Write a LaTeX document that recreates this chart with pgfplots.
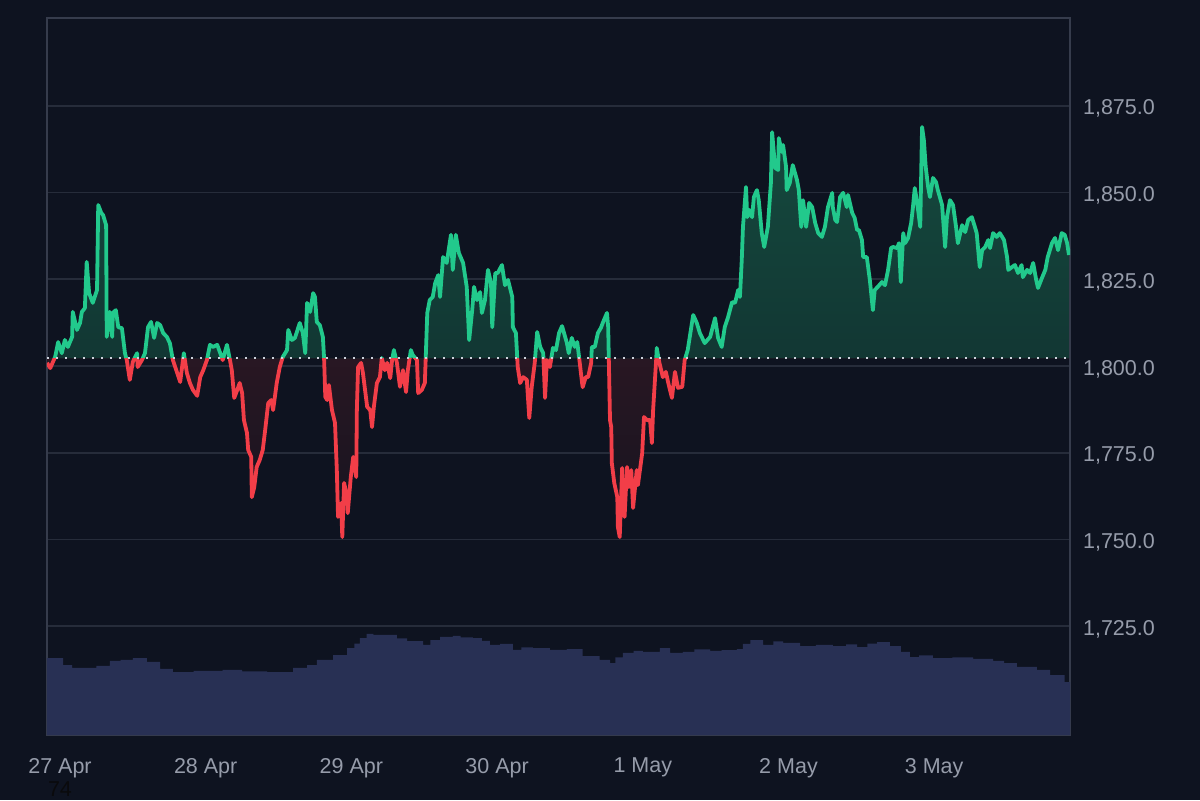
\documentclass[border=0pt]{standalone}
\usepackage{pgfplots}
\pgfplotsset{compat=1.18}
\usepackage{pgfplotstable}
\usepackage{fontspec}
\setmainfont{Liberation Sans}
\definecolor{bgcol}{RGB}{14,19,32}
\definecolor{gridcol}{RGB}{38,44,58}
\definecolor{bordercol}{RGB}{54,60,76}
\definecolor{txtcol}{RGB}{150,156,170}
\definecolor{upcol}{RGB}{34,201,140}
\definecolor{dncol}{RGB}{242,62,72}
\definecolor{upfillt}{RGB}{21,74,62}
\definecolor{upfillb}{RGB}{15,40,43}
\definecolor{dnfillt}{RGB}{64,26,38}
\definecolor{dnfillb}{RGB}{22,20,32}
\definecolor{volcol}{RGB}{40,48,84}

\pgfplotstableread{
h v
-2.14 1800.9
-1.6 1799.4
-0.8 1802.6
-0.3 1806.9
0.3 1803.7
0.8 1807.5
1.3 1805.5
2.0 1808.4
2.1 1815.6
2.8 1810.4
3.3 1812.4
3.6 1815.6
4.1 1816.7
4.4 1830.0
4.8 1821.0
5.4 1818.2
6.1 1821.9
6.3 1846.4
6.8 1844.1
7.1 1843.5
7.6 1840.6
7.7 1808.4
8.2 1815.6
8.6 1808.4
8.7 1815.3
9.2 1816.1
9.6 1811.2
10.2 1810.9
10.7 1803.7
11.0 1801.7
11.5 1796.0
12.0 1801.2
12.7 1803.7
12.8 1799.7
13.5 1801.7
14.0 1803.7
14.5 1811.2
15.0 1812.7
15.5 1808.1
16.0 1812.4
16.5 1811.8
17.0 1809.5
17.6 1808.4
18.1 1806.6
18.6 1801.7
19.3 1798.0
19.8 1795.4
20.4 1803.7
20.9 1798.0
21.4 1795.1
21.9 1793.1
22.6 1791.4
23.1 1796.8
23.6 1798.8
24.2 1801.7
24.7 1806.1
25.2 1805.5
25.9 1806.1
26.4 1803.7
26.8 1801.7
27.5 1806.1
28.0 1801.7
28.3 1798.8
28.7 1790.8
29.2 1793.1
29.6 1795.1
30.0 1792.2
30.3 1784.4
30.8 1780.7
31.0 1775.8
31.5 1773.8
31.6 1762.2
32.0 1765.1
32.4 1770.9
32.9 1772.9
33.4 1775.8
33.8 1781.6
34.3 1789.3
34.8 1790.2
35.1 1787.3
35.4 1791.1
35.7 1795.1
36.2 1799.7
36.7 1802.6
37.4 1804.6
37.6 1810.4
38.2 1807.5
38.7 1808.1
39.5 1812.4
40.0 1809.5
40.4 1803.7
40.7 1818.2
41.2 1815.6
41.7 1821.0
42.0 1819.9
42.3 1812.7
42.8 1811.8
43.3 1808.4
43.5 1802.3
43.7 1791.1
44.0 1790.2
44.3 1794.5
44.8 1787.3
45.3 1783.6
45.6 1770.0
45.8 1756.5
46.3 1760.5
46.5 1750.7
46.8 1766.3
47.3 1762.2
47.4 1757.6
47.9 1768.0
48.3 1773.8
48.8 1768.0
48.9 1787.3
49.1 1799.7
49.6 1800.9
49.9 1798.0
50.6 1788.2
51.1 1787.3
51.4 1782.4
51.7 1788.2
52.2 1795.1
52.7 1796.8
53.0 1802.3
53.5 1798.8
53.9 1800.9
54.4 1796.5
54.7 1801.7
55.0 1804.6
55.5 1800.9
56.0 1794.0
56.5 1798.8
57.0 1792.5
57.3 1798.8
57.8 1804.6
58.1 1803.2
58.8 1801.7
59.0 1792.2
59.6 1793.1
60.1 1795.1
60.5 1815.3
60.9 1819.0
61.4 1819.9
61.8 1823.9
62.3 1826.2
62.6 1819.9
63.1 1831.4
63.7 1829.7
64.4 1837.8
64.7 1827.7
65.2 1837.8
65.7 1832.6
66.4 1829.7
67.0 1822.8
67.4 1807.5
67.9 1816.1
68.2 1822.8
68.7 1819.0
69.2 1821.3
69.5 1815.3
70.0 1819.0
70.5 1827.7
71.0 1823.9
71.2 1811.2
71.7 1826.8
72.1 1826.8
72.8 1829.1
73.3 1823.3
73.8 1824.8
74.5 1819.9
74.6 1811.2
75.1 1809.5
75.4 1799.7
75.8 1795.1
76.3 1796.8
76.9 1796.0
77.3 1785.0
77.7 1793.9
78.2 1800.9
78.6 1809.8
79.1 1805.5
79.6 1803.7
79.9 1790.8
80.2 1801.7
80.7 1799.7
81.2 1805.2
81.7 1804.6
82.2 1809.5
82.7 1811.5
83.5 1806.6
83.8 1803.7
84.3 1808.1
84.8 1805.5
85.2 1806.9
85.5 1802.6
86.0 1795.1
86.1 1793.9
86.6 1796.8
87.0 1796.8
87.5 1800.9
87.6 1805.5
88.1 1805.5
88.6 1809.5
89.1 1811.0
89.4 1812.4
90.1 1815.3
90.3 1811.2
90.6 1784.4
90.8 1782.4
90.9 1772.0
91.3 1766.3
91.8 1762.2
91.9 1753.6
92.2 1750.7
92.6 1770.6
92.7 1761.4
93.0 1756.5
93.4 1770.9
93.7 1765.1
94.1 1770.0
94.4 1759.1
95.0 1770.0
95.2 1765.7
95.9 1774.9
96.2 1785.3
96.7 1784.4
97.2 1784.4
97.5 1777.8
97.7 1787.3
98.2 1801.7
98.3 1805.2
98.7 1801.2
99.3 1796.8
99.8 1798.3
100.2 1795.1
100.8 1790.8
101.3 1798.3
101.8 1793.7
102.5 1794.0
102.9 1801.7
103.4 1804.6
104.3 1814.7
104.9 1812.4
105.4 1809.5
106.2 1806.6
107.1 1808.4
107.9 1813.8
108.4 1808.1
109.0 1805.5
109.5 1811.2
110.0 1813.8
110.7 1818.4
111.2 1818.2
111.7 1821.9
112.0 1819.9
112.3 1830.5
112.5 1840.1
113.0 1851.6
113.2 1842.9
113.5 1845.0
114.0 1842.9
114.3 1848.7
114.8 1850.7
115.1 1847.8
115.6 1838.3
116.0 1834.3
116.6 1840.1
117.1 1852.7
117.3 1867.4
117.8 1857.1
118.3 1856.5
118.4 1865.7
118.9 1861.7
119.1 1863.7
119.6 1857.4
119.7 1850.7
120.2 1852.7
120.7 1857.9
121.4 1853.6
121.7 1850.7
122.1 1840.1
122.4 1847.8
122.9 1840.1
123.4 1847.0
123.9 1845.8
124.4 1841.2
124.9 1838.3
125.5 1837.2
126.0 1840.1
126.5 1845.8
127.2 1849.9
127.3 1845.8
127.7 1842.1
128.0 1841.5
128.5 1848.7
129.0 1849.9
129.6 1845.8
129.8 1849.3
130.5 1844.1
130.9 1842.7
131.3 1839.2
131.6 1839.2
132.1 1836.3
132.3 1831.4
132.9 1831.4
133.4 1824.8
133.9 1816.1
134.2 1821.9
134.7 1822.8
135.4 1824.2
135.9 1823.3
136.4 1827.7
136.9 1834.0
137.2 1834.3
137.9 1834.0
138.2 1835.4
138.5 1824.2
138.9 1838.3
139.2 1835.4
139.7 1836.9
140.2 1841.2
140.5 1845.8
140.8 1851.3
141.2 1847.0
141.7 1840.1
142.0 1868.9
142.3 1865.1
142.6 1857.4
143.0 1851.6
143.3 1848.7
143.8 1854.2
144.3 1853.0
144.6 1850.7
145.3 1846.4
145.8 1834.3
146.1 1842.9
146.6 1847.8
147.1 1846.4
147.6 1840.1
147.9 1835.4
148.6 1840.6
149.1 1838.6
149.6 1842.1
150.2 1842.9
150.7 1840.1
151.0 1838.3
151.5 1828.5
151.9 1833.4
152.4 1834.3
152.9 1836.3
153.2 1834.0
153.7 1838.3
154.3 1837.2
154.8 1838.3
155.2 1837.2
155.5 1836.3
156.0 1831.4
156.2 1827.7
156.8 1828.5
157.3 1829.1
157.8 1826.8
158.4 1829.1
158.6 1825.6
159.3 1827.7
159.8 1826.8
160.3 1829.7
160.8 1824.8
161.1 1822.5
161.8 1825.6
162.3 1827.7
162.7 1831.4
163.4 1835.4
163.9 1836.9
164.4 1833.4
165.0 1838.3
165.5 1837.8
165.9 1835.4
166.2 1832.0
}\price

\pgfplotstableread{
h v
-2.14 1715.8
0.5 1713.8
2.0 1713.0
3.8 1713.0
6.0 1713.6
8.2 1715.0
10.0 1715.3
12.0 1715.8
14.3 1714.7
16.5 1712.7
18.6 1711.8
22.0 1712.1
26.8 1712.4
30.0 1712.0
34.1 1711.8
38.4 1713.0
40.7 1713.8
42.3 1715.3
45.0 1716.7
47.3 1718.7
48.5 1720.0
49.4 1721.6
50.5 1722.8
51.6 1722.5
53.9 1722.5
55.5 1721.5
57.2 1720.7
59.8 1719.6
61.0 1721.0
62.6 1721.9
64.7 1722.2
66.0 1721.8
68.0 1721.6
69.5 1720.8
70.8 1719.6
72.5 1719.9
74.6 1718.2
76.0 1718.9
77.9 1718.7
80.7 1718.2
83.5 1718.4
86.1 1716.4
88.9 1715.3
90.6 1714.4
91.5 1716.0
92.7 1717.3
94.5 1717.9
96.0 1717.6
98.8 1718.7
100.5 1717.3
102.6 1717.6
104.5 1718.3
107.1 1717.9
109.0 1718.1
111.5 1718.4
112.5 1719.9
113.7 1721.0
115.8 1719.6
117.5 1720.6
119.1 1720.2
121.9 1719.3
124.5 1719.6
127.3 1719.3
129.5 1719.8
131.3 1719.0
133.0 1720.0
134.6 1720.4
136.7 1719.3
138.5 1717.6
140.0 1716.1
141.5 1716.6
143.8 1715.8
147.0 1716.0
150.4 1715.6
153.7 1715.0
155.5 1714.4
157.6 1713.3
160.9 1712.4
163.1 1710.9
165.5 1708.9
166.4 1708.6
}\volume

\begin{document}
\begin{tikzpicture}[font=\fontsize{10.75}{13}\selectfont]
\fill[bgcol] (0,0) rectangle (600pt,400pt);
\useasboundingbox (0,0) rectangle (600pt,400pt);
\begin{axis}[
  at={(23.5pt,32.5pt)}, anchor=south west,
  scale only axis, width=511.5pt, height=358.5pt,
  xmin=-2.14, xmax=166.37, ymin=1693.65, ymax=1900.3,
  axis line style={draw=bordercol, line width=0.8pt},
  ymajorgrids, grid style={draw=gridcol, line width=0.8pt},
  major tick length=0pt,
  xtick={0,24,48,72,96,120,144},
  xticklabels={27 Apr,28 Apr,29 Apr,30 Apr,1 May,2 May,3 May},
  ytick={1725,1750,1775,1800,1825,1850,1875},
  yticklabel pos=right,
  yticklabel style={anchor=west, xshift=3pt, yshift=-1.5pt, text=txtcol},
  xticklabel style={text=txtcol, yshift=-8pt},
  /pgf/number format/.cd, fixed, fixed zerofill, precision=1, 1000 sep={,}, assume math mode=true,
]
\addplot[fill=volcol, draw=none, const plot] table {\volume} \closedcycle;
\begin{scope}
  \clip (axis cs:-10,1802.2) rectangle (axis cs:180,1950);
  \addplot[draw=none, top color=upfillt, bottom color=upfillb] table {\price} -- (axis cs:166.2,1802.2) -- (axis cs:-2.14,1802.2) -- cycle;
  \addplot[upcol, line width=1.9pt, line join=round] table {\price};
\end{scope}
\begin{scope}
  \clip (axis cs:-10,1650) rectangle (axis cs:180,1802.2);
  \addplot[draw=none, top color=dnfillt, bottom color=dnfillb] table {\price} -- (axis cs:166.2,1802.2) -- (axis cs:-2.14,1802.2) -- cycle;
  \addplot[dncol, line width=1.9pt, line join=round] table {\price};
\end{scope}
\addplot[draw={rgb,255:red,205;green,210;blue,220}, line width=1pt, dash pattern=on 1pt off 3.5pt] coordinates {(-2.14,1802.2) (166.37,1802.2)};
\end{axis}
\node[text={rgb,255:red,10;green,10;blue,12}] at (30pt,5.5pt) {74};
\end{tikzpicture}
\end{document}
